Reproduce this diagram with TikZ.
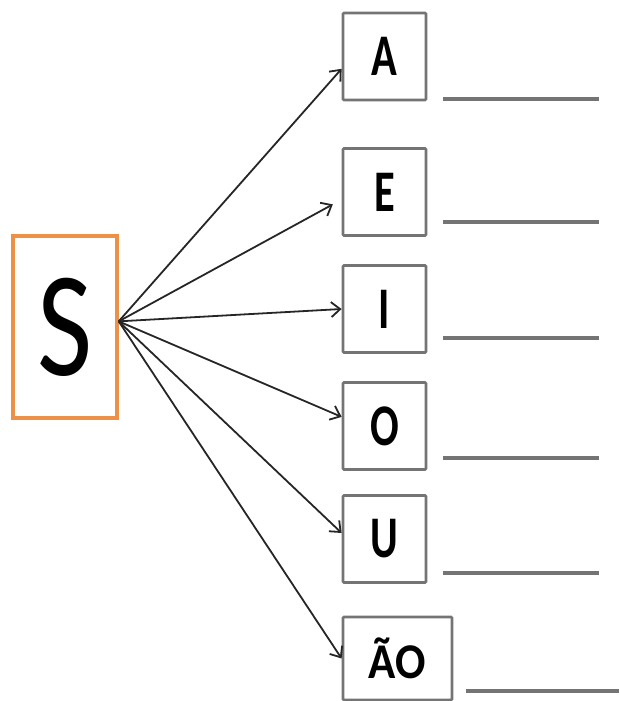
\documentclass[tikz,border=0pt]{standalone}
\usepackage{fontspec}
\setmainfont{Carlito}
\usepackage{graphicx}
\usetikzlibrary{arrows.meta}
\definecolor{sorange}{HTML}{EE9148}
\definecolor{boxgray}{HTML}{747474}
\newcommand{\narrow}[1]{\scalebox{0.72}[1]{#1}}
\tikzset{
  syllable/.style={draw=boxgray, line width=2.8pt, rounded corners=1pt,
    minimum width=83pt, minimum height=87pt, inner sep=0pt,
    font=\fontsize{59}{59}\selectfont\bfseries},
  link/.style={-{Straight Barb[length=9pt,width=15pt]}, line width=1.8pt,
    draw=black!85},
  blank/.style={draw=boxgray, line width=3.2pt}
}
\begin{document}
\begin{tikzpicture}[x=1pt,y=-1pt]
\useasboundingbox (0,0) rectangle (619,701);
\node(s) at (65,327) [draw=sorange, line width=3.4pt, minimum width=104pt,
  minimum height=182pt, inner sep=0pt,
  font=\fontsize{150}{150}\selectfont] {\scalebox{0.8}[1]{S}};
%
\node(a) at (384.5,56.5) [syllable] {\narrow{A}};
\draw[link](s.6) -- (a.196) {};
\draw[blank] (443,99) -- (599,99);
%
\node(e) at (384.5,192) [syllable] {\narrow{E}};
\draw[link, shorten >=10pt](s.6) -- (e.190) {};
\draw[blank] (443,222) -- (599,222);
%
\node(i) at (384.5,309) [syllable] {\narrow{I}};
\draw[link](s.6) -- (i.west) {};
\draw[blank] (443,338) -- (599,338);
%
\node(o) at (384.5,426) [syllable] {\narrow{O}};
\draw[link](s.6) -- (o.168) {};
\draw[blank] (443,458) -- (599,458);
%
\node(u) at (384.5,539) [syllable] {\narrow{U}};
\draw[link](s.6) -- (u.172) {};
\draw[blank] (443,573) -- (599,573);
%
\node(ao) at (397.5,658.5) [syllable, minimum width=109pt, minimum height=83pt,
  font=\fontsize{50}{50}\selectfont\bfseries] {\scalebox{0.9}[1]{ÃO}};
\draw[link](s.6) -- (ao.west) {};
\draw[blank] (466,691) -- (619,691);
\end{tikzpicture}
\end{document}
